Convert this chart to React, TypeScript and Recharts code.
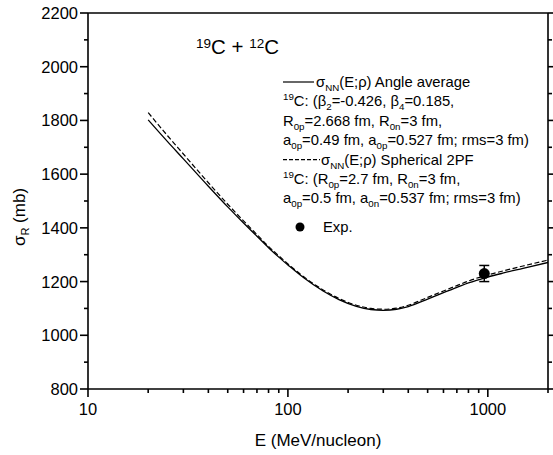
import { ComposedChart, Line, XAxis, YAxis, Scatter, ErrorBar, Customized } from "recharts"

// energies (MeV/nucleon) where the two calculated curves are sampled
const energies = [20, 25, 30, 40, 50, 60, 70, 80, 90, 100, 120, 150, 180, 220, 260, 300, 350, 400, 500, 600, 700, 800, 1000, 1200, 1500, 2000]
// sigma_R (mb), angle averaged sigma_NN (solid)
const angleAverage = [1802, 1721, 1657, 1555, 1478, 1418, 1369, 1326, 1291, 1262, 1214, 1165, 1133, 1108, 1096, 1093, 1097, 1107, 1135, 1159, 1178, 1195, 1217, 1232, 1249, 1271]
// sigma_R (mb), spherical 2PF (dashed)
const spherical2PF = [1829, 1743, 1675, 1568, 1488, 1426, 1375, 1331, 1296, 1266, 1218, 1169, 1137, 1112, 1100, 1097, 1101, 1112, 1141, 1165, 1185, 1202, 1225, 1240, 1258, 1280]

// experimental point
const expE = [960]
const expSigma = [1230]
const expErr = [30]

const xTicks = [10, 20, 30, 40, 50, 60, 70, 80, 90, 100, 200, 300, 400, 500, 600, 700, 800, 900, 1000, 2000]
const xMajor = [10, 100, 1000]
const yTicks = [800, 900, 1000, 1100, 1200, 1300, 1400, 1500, 1600, 1700, 1800, 1900, 2000, 2100, 2200]
const yMajor = [800, 1000, 1200, 1400, 1600, 1800, 2000, 2200]

const data = energies.map((E, i) => ({ E, solid: angleAverage[i], dashed: spherical2PF[i] }))
const expData = expE.map((E, i) => ({ E, sigma: expSigma[i], err: expErr[i] }))

const FONT = "'Liberation Sans', Arial, sans-serif"

type Seg = [string, "n" | "sub" | "sup"]

function Rich({ x, y, segs, size = 14.8 }: { x: number; y: number; segs: Seg[]; size?: number }) {
  let shift = 0
  return (
    <text x={x} y={y} fontSize={size} fontFamily={FONT} fill="#000" style={{ whiteSpace: "pre" }}>
      {segs.map(([t, k], i) => {
        const target = k === "sub" ? 4 : k === "sup" ? -6 : 0
        const dy = target - shift
        shift = target
        return (
          <tspan key={i} dy={dy} fontSize={k === "n" ? size : size * 0.66}>
            {t}
          </tspan>
        )
      })}
    </text>
  )
}

const legendLines: Seg[][] = [
  [["σ", "n"], ["NN", "sub"], ["(E;ρ) Angle average", "n"]],
  [["19", "sup"], ["C: (β", "n"], ["2", "sub"], ["=-0.426, β", "n"], ["4", "sub"], ["=0.185,", "n"]],
  [["R", "n"], ["0p", "sub"], ["=2.668 fm, R", "n"], ["0n", "sub"], ["=3 fm,", "n"]],
  [["a", "n"], ["0p", "sub"], ["=0.49 fm, a", "n"], ["0p", "sub"], ["=0.527 fm; rms=3 fm)", "n"]],
  [["σ", "n"], ["NN", "sub"], ["(E;ρ) Spherical 2PF", "n"]],
  [["19", "sup"], ["C: (R", "n"], ["0p", "sub"], ["=2.7 fm, R", "n"], ["0n", "sub"], ["=3 fm,", "n"]],
  [["a", "n"], ["0p", "sub"], ["=0.5 fm, a", "n"], ["0n", "sub"], ["=0.537 fm; rms=3 fm)", "n"]],
]

function Annotations() {
  const top = 82
  const step = 19.4
  const expY = 227
  const xs = [316, 283, 283, 283, 321, 283, 283]
  return (
    <g>
      <Rich x={196} y={54} size={20.5} segs={[["19", "sup"], ["C + ", "n"], ["12", "sup"], ["C", "n"]]} />
      <line x1={283} x2={314} y1={top} y2={top} stroke="#000" strokeWidth={1.2} />
      <line x1={283} x2={320} y1={top + 4 * step} y2={top + 4 * step} stroke="#000" strokeWidth={1.2} strokeDasharray="4 2" />
      {legendLines.map((segs, i) => (
        <Rich key={i} x={xs[i]} y={top + i * step + 5} segs={segs} />
      ))}
      <circle cx={300} cy={expY} r={4.5} fill="#000" />
      <text x={323} y={expY + 5} fontSize={14.8} fontFamily={FONT}>Exp.</text>
      <g transform="rotate(-90, 25, 217)">
        <text x={25} y={217} textAnchor="middle" fontSize={17} fontFamily={FONT} style={{ whiteSpace: "pre" }}>
          σ<tspan dy={4} fontSize={11}>R</tspan><tspan dy={-4}> (mb)</tspan>
        </text>
      </g>
      <text x={318} y={446} textAnchor="middle" fontSize={17} fontFamily={FONT}>E (MeV/nucleon)</text>
    </g>
  )
}

// ticks point outward; drawn here so majors and minors can differ in length
const MAJOR = 8
const MINOR = 4

function BottomTick({ x, y, payload }: any) {
  const major = xMajor.includes(payload.value)
  return (
    <g>
      <line x1={x} x2={x} y1={y} y2={y + (major ? MAJOR : MINOR)} stroke="#000" strokeWidth={1.6} />
      {major && (
        <text x={x} y={y + 26} textAnchor="middle" fontSize={16.5} fontFamily={FONT} fill="#000">
          {payload.value}
        </text>
      )}
    </g>
  )
}

function TopTick({ x, y, payload }: any) {
  const major = xMajor.includes(payload.value)
  return <line x1={x} x2={x} y1={y} y2={y - (major ? MAJOR : MINOR)} stroke="#000" strokeWidth={1.6} />
}

function LeftTick({ x, y, payload }: any) {
  const major = yMajor.includes(payload.value)
  return (
    <g>
      <line x1={x} x2={x - (major ? MAJOR : MINOR)} y1={y} y2={y} stroke="#000" strokeWidth={1.6} />
      {major && (
        <text x={x - 10} y={y + 6} textAnchor="end" fontSize={16.5} fontFamily={FONT} fill="#000">
          {payload.value}
        </text>
      )}
    </g>
  )
}

function RightTick({ x, y, payload }: any) {
  const major = yMajor.includes(payload.value)
  return <line x1={x} x2={x + (major ? MAJOR : MINOR)} y1={y} y2={y} stroke="#000" strokeWidth={1.6} />
}

const axisLine = { stroke: "#000", strokeWidth: 1.6 }

export default function App() {
  return (
    <div style={{ position: "absolute", left: 0, top: 0, width: 553, height: 455, background: "#fff" }}>
      <ComposedChart width={553} height={455} data={data} margin={{ top: 0, right: 0, bottom: 0, left: 0 }}>
        <XAxis
          dataKey="E"
          type="number"
          scale="log"
          domain={[10, 2000]}
          allowDataOverflow
          ticks={xTicks}
          interval={0}
          tickSize={0}
          tickMargin={0}
          tick={<BottomTick />}
          axisLine={axisLine}
          tickLine={false}
          height={66}
        />
        <XAxis
          xAxisId="top"
          orientation="top"
          type="number"
          scale="log"
          domain={[10, 2000]}
          allowDataOverflow
          ticks={xTicks}
          interval={0}
          tickSize={0}
          tickMargin={0}
          tick={<TopTick />}
          axisLine={axisLine}
          tickLine={false}
          height={13}
        />
        <YAxis
          type="number"
          domain={[800, 2200]}
          allowDataOverflow
          ticks={yTicks}
          interval={0}
          tickSize={0}
          tickMargin={0}
          tick={<LeftTick />}
          axisLine={axisLine}
          tickLine={false}
          width={88}
        />
        <YAxis
          yAxisId="right"
          orientation="right"
          type="number"
          domain={[800, 2200]}
          allowDataOverflow
          ticks={yTicks}
          interval={0}
          tickSize={0}
          tickMargin={0}
          tick={<RightTick />}
          axisLine={axisLine}
          tickLine={false}
          width={5}
        />
        <Line type="monotone" dataKey="solid" stroke="#000" strokeWidth={1.3} dot={false} isAnimationActive={false} />
        <Line type="monotone" dataKey="dashed" stroke="#000" strokeWidth={1.2} strokeDasharray="5 2.5" dot={false} isAnimationActive={false} />
        <Scatter
          data={expData}
          dataKey="sigma"
          isAnimationActive={false}
          shape={(p: any) => <circle cx={p.cx} cy={p.cy} r={5.5} fill="#000" />}
        >
          <ErrorBar dataKey="err" direction="y" width={5} stroke="#000" strokeWidth={1.5} isAnimationActive={false} />
        </Scatter>
        <Customized component={Annotations} />
      </ComposedChart>
    </div>
  )
}
